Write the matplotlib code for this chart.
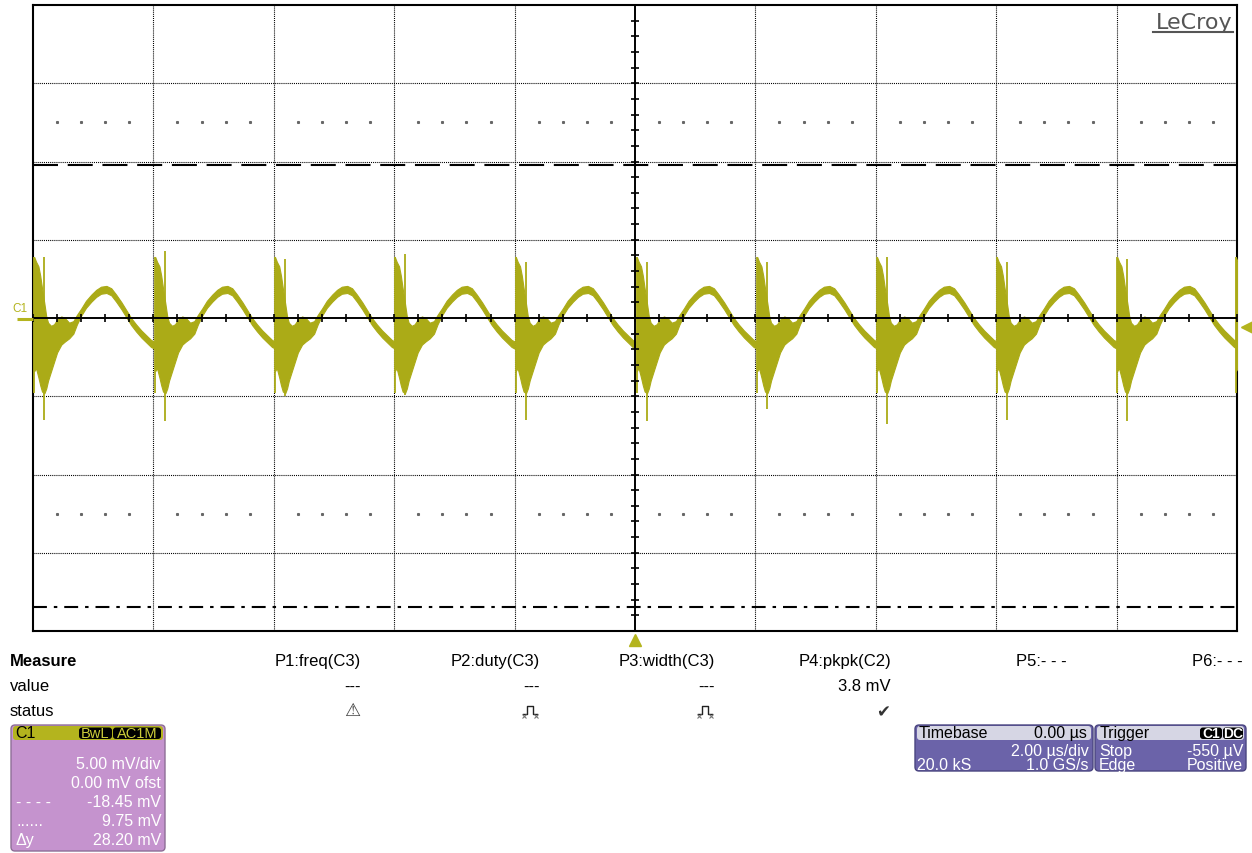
import numpy as np
import matplotlib
matplotlib.use("Agg")
import matplotlib.pyplot as plt
from matplotlib.patches import FancyBboxPatch

plt.rcParams['font.family'] = ['Liberation Sans', 'DejaVu Sans']
plt.rcParams['lines.scale_dashes'] = False

# ---------------- data ----------------
spike_times_us = [-9.98, -7.97, -5.98, -3.99, -1.98, 0.03, 2.03, 4.02, 6.01, 8.01, 9.98]
spike_hi_mv = [3.9, 4.3, 3.8, 4.1, 3.6, 3.6, 3.6, 3.9, 3.6, 3.8, 3.5]
spike_lo_mv = [-6.5, -6.6, -5.0, -4.9, -6.5, -6.6, -5.8, -6.8, -6.5, -6.6, -5.0]

period_t_us = [0.00, 0.03, 0.07, 0.10, 0.13, 0.17, 0.20, 0.23, 0.28, 0.33,
               0.38, 0.45, 0.51, 0.58, 0.65, 0.71, 0.78, 0.86, 0.95, 1.03,
               1.11, 1.20, 1.28, 1.36, 1.45, 1.53, 1.61, 1.69, 1.78, 1.86,
               1.94, 1.99]
period_upper_mv = [3.9, 3.6, 3.3, 2.7, 1.9, 0.9, 0.1, -0.3, -0.5, -0.4,
                   -0.1, 0.1, 0.0, -0.3, -0.2, 0.2, 0.6, 1.1, 1.5, 1.8,
                   2.0, 2.05, 1.9, 1.5, 1.0, 0.5, 0.0, -0.4, -0.8, -1.1,
                   -1.4, -1.5]
period_lower_mv = [-3.4, -3.2, -3.8, -4.3, -4.7, -4.8, -4.5, -4.0, -3.4, -2.8,
                   -2.2, -1.7, -1.5, -1.3, -1.0, -0.4, 0.15, 0.65, 1.05, 1.35,
                   1.55, 1.6, 1.45, 1.05, 0.55, 0.05, -0.45, -0.85, -1.25, -1.55,
                   -1.85, -1.95]
spike_offset_us = 0.17

cursor_upper_mv = 9.75
cursor_lower_mv = -18.45
trigger_level_mv = -0.55
trigger_time_us = 0.0

measure_params = ["P1:freq(C3)", "P2:duty(C3)", "P3:width(C3)", "P4:pkpk(C2)", "P5:- - -", "P6:- - -"]
measure_values = ["---", "---", "---", "3.8 mV", "", ""]
measure_status = ["warn", "pulse", "pulse", "ok", "", ""]

c1_rows_left = ["", "", "- - - -", "......", "Δy"]
c1_rows_right = ["5.00 mV/div", "0.00 mV ofst", "-18.45 mV", "9.75 mV", "28.20 mV"]
tb_header = ("Timebase", "0.00 µs")
tb_rows = [("", "2.00 µs/div"), ("20.0 kS", "1.0 GS/s")]
trig_rows = [("Stop", "-550 µV"), ("Edge", "Positive")]

# ---------------- styles ----------------
W, H = 1252, 854
TRACE = '#ABAB17'
OLIVE = '#B4B41E'
C1_BODY = '#C593CE'
TB_BODY = '#6B63A9'
TB_HEAD = '#D6D6E4'
FS = 11.5

fig = plt.figure(figsize=(W / 100, H / 100), dpi=100, facecolor='white')

# main scope grid
ax = fig.add_axes([33 / W, (H - 632) / H, 1204 / W, 626 / H], zorder=1)
ax.set_xlim(-10, 10)
ax.set_ylim(-20, 20)
ax.set_xticks([])
ax.set_yticks([])
for sp in ax.spines.values():
    sp.set_linewidth(1.5)
    sp.set_color('black')

for xv in range(-8, 10, 2):
    if xv != 0:
        ax.axvline(xv, color='black', lw=0.8, dashes=(0.75, 0.75), zorder=2)
for yv in [-15, -10, -5, 5, 10, 15]:
    ax.axhline(yv, color='black', lw=0.8, dashes=(0.75, 0.75), zorder=2)

# ghost dots at +-2.5 div
gx = [x for x in np.arange(-10, 10, 0.4) if abs(x / 2 - round(x / 2)) > 0.05]
for yv in (12.5, -12.5):
    ax.plot(gx, [yv] * len(gx), ls='none', marker='s', ms=1.2, color='#666666', zorder=2)

# trace
for s, hi, lo in zip(spike_times_us, spike_hi_mv, spike_lo_mv):
    t = s + np.array(period_t_us)
    ax.fill_between(t, period_lower_mv, period_upper_mv, color=TRACE, lw=0.8,
                    edgecolor=TRACE, zorder=3)
    ax.vlines(s + spike_offset_us, lo, hi, color=TRACE, lw=1.3, zorder=3)
    ax.vlines(s, -4.8, period_upper_mv[0], color=TRACE, lw=1.3, zorder=3)

# center crosshair with ticks
ax.axhline(0, color='black', lw=1.4, zorder=4)
ax.axvline(0, color='black', lw=1.4, zorder=4)
xt = np.arange(-10, 10.001, 0.4)
ax.plot(xt, np.zeros_like(xt), ls='none', marker='|', ms=6, mew=1.2, color='black', zorder=4)
yt = np.arange(-20, 20.001, 1.0)
ax.plot(np.zeros_like(yt), yt, ls='none', marker='_', ms=6, mew=1.2, color='black', zorder=4)

# cursors
ax.axhline(cursor_upper_mv, color='black', lw=1.5, dashes=(18, 7), zorder=5)
ax.axhline(cursor_lower_mv, color='black', lw=1.5, dashes=(10, 5, 2.5, 5), zorder=5)

# trigger markers
ax.plot(10.17, trigger_level_mv, marker='<', ms=8, color=OLIVE, clip_on=False, zorder=6)
ax.plot(trigger_time_us, -20.6, marker='^', ms=9, color=OLIVE, clip_on=False, zorder=6)

# ---------------- overlay in pixel coordinates ----------------
ov = fig.add_axes([0, 0, 1, 1], zorder=5)
ov.set_xlim(0, W)
ov.set_ylim(H, 0)
ov.axis('off')
ov.patch.set_alpha(0)

# C1 ground marker
ov.text(12, 309, 'C1', color=OLIVE, fontsize=8.5, va='center', ha='left')
ov.plot([17, 33], [320, 320], color=OLIVE, lw=2.2, solid_capstyle='butt')

# LeCroy logo
ov.text(1233, 29, 'LeCroy', ha='right', va='baseline', fontsize=16,
        color='#555555', family=['DejaVu Sans'])
ov.plot([1153, 1233], [33, 33], color='#555555', lw=1.5)

# Measure table
ov.text(10, 662, 'Measure', fontsize=12, fontweight='bold', va='center', ha='left')
ov.text(10, 687, 'value', fontsize=12, va='center', ha='left')
ov.text(10, 712, 'status', fontsize=12, va='center', ha='left')
col_right = [361, 540, 715, 891, 1067, 1243]


def pulse_icon(xc, yc):
    ov.plot([xc - 7, xc - 3, xc - 3, xc + 3, xc + 3, xc + 7],
            [yc + 4, yc + 4, yc - 4, yc - 4, yc + 4, yc + 4], color='#222222', lw=1)
    ov.plot([xc - 6, xc + 6], [yc + 6, yc + 6], ls='none', marker='x', ms=3, mew=0.8,
            color='#777777')


for xr, p, v, st in zip(col_right, measure_params, measure_values, measure_status):
    ov.text(xr, 662, p, fontsize=12, ha='right', va='center')
    if v:
        ov.text(xr, 687, v, fontsize=12, ha='right', va='center')
    if st == 'warn':
        ov.text(xr - 9, 711, '⚠', fontsize=13, ha='center', va='center', color='#444444',
                family=['DejaVu Sans'])
    elif st == 'pulse':
        pulse_icon(xr - 10, 711)
    elif st == 'ok':
        ov.text(xr - 8, 712, '✔', fontsize=12, ha='center', va='center', color='#333333',
                family=['DejaVu Sans'])


def rbox(x, y, w, h, fc, ec='none', r=4, lw=1.0, z=1):
    p = FancyBboxPatch((x, y), w, h, boxstyle=f'round,pad=0,rounding_size={r}',
                       fc=fc, ec=ec, lw=lw, zorder=z)
    ov.add_patch(p)


# C1 descriptor box
rbox(11, 726, 154, 126, C1_BODY, ec='#8E6E96')
rbox(13, 727, 150, 14, OLIVE, r=3, z=2)
ov.text(15, 734, 'C1', fontsize=FS, va='center', ha='left', color='black', zorder=3)
rbox(79, 728.5, 33, 11.5, 'black', r=3, z=2)
ov.text(95.5, 734.5, 'BwL', fontsize=10.5, va='center', ha='center', color='#CDCD3A', zorder=3)
rbox(113, 728.5, 48, 11.5, 'black', r=3, z=2)
ov.text(137, 734.5, 'AC1M', fontsize=10.5, va='center', ha='center', color='#CDCD3A', zorder=3)
row_y = [765, 784, 803, 822, 841]
for yy, lt, rt in zip(row_y, c1_rows_left, c1_rows_right):
    ov.text(161, yy, rt, fontsize=FS, ha='right', va='center', color='white', zorder=3)
    if lt:
        ov.text(16, yy, lt, fontsize=FS, ha='left', va='center', color='white', zorder=3)

# Timebase box
rbox(915, 726, 178, 46, TB_BODY, ec='#4A4580')
rbox(917, 727, 174, 14, TB_HEAD, r=3, z=2)
ov.text(919, 734, tb_header[0], fontsize=FS, ha='left', va='center', zorder=3)
ov.text(1087, 734, tb_header[1], fontsize=FS, ha='right', va='center', zorder=3)
for yy, (lt, rt) in zip([752, 766], tb_rows):
    if lt:
        ov.text(917, yy, lt, fontsize=FS, ha='left', va='center', color='white', zorder=3)
    ov.text(1089, yy, rt, fontsize=FS, ha='right', va='center', color='white', zorder=3)

# Trigger box
rbox(1095, 726, 151, 46, TB_BODY, ec='#4A4580')
rbox(1097, 727, 147, 14, TB_HEAD, r=3, z=2)
ov.text(1100, 734, 'Trigger', fontsize=FS, ha='left', va='center', zorder=3)
rbox(1200, 728.5, 22, 11.5, 'black', r=3, z=3)
ov.text(1211, 734.5, 'C1', fontsize=10, ha='center', va='center', color='white',
        fontweight='bold', zorder=4)
rbox(1223, 728.5, 20, 11.5, 'black', r=3, z=3)
ov.text(1233, 734.5, 'DC', fontsize=10, ha='center', va='center', color='white',
        fontweight='bold', zorder=4)
for yy, (lt, rt) in zip([752, 766], trig_rows):
    ov.text(1099, yy, lt, fontsize=FS, ha='left', va='center', color='white', zorder=3)
    ov.text(1243, yy, rt, fontsize=FS, ha='right', va='center', color='white', zorder=3)

fig.savefig('out.png', dpi=100, facecolor='white')
